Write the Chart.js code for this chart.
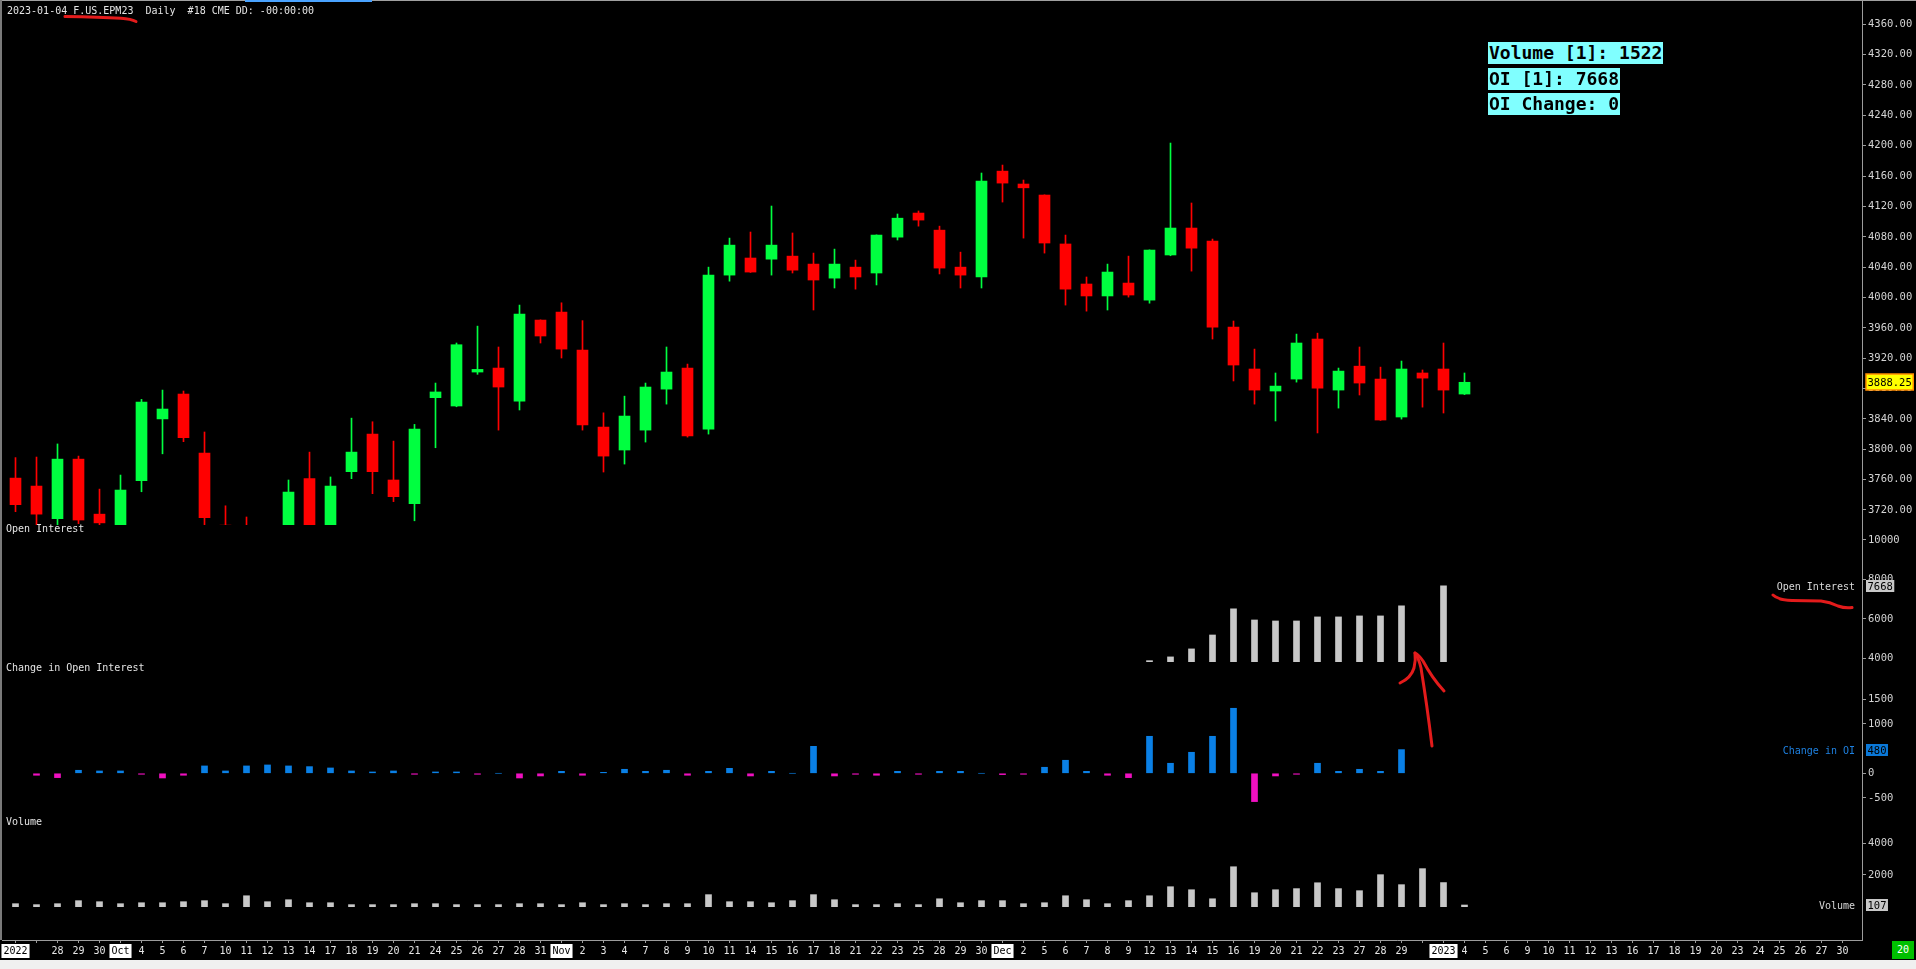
<!DOCTYPE html>
<html lang="en">
<head>
    <meta charset="UTF-8">
    <title>F.US.EPM23 Daily</title>
    <script src="https://cdn.jsdelivr.net/npm/chart.js"></script>
    <style>
        body {
            margin: 0;
            width: 1916px;
            height: 969px;
            overflow: hidden;
            position: relative;
            background-color: #000;
            font-family: "DejaVu Sans Mono", monospace;
        }

        canvas {
            position: absolute;
            left: 0;
        }

        .txt {
            position: absolute;
            z-index: 2;
            color: #e4e4e4;
            font-size: 10px;
            line-height: 12px;
            white-space: pre;
        }

        .info {
            position: absolute;
            left: 1488px;
            z-index: 2;
            height: 22px;
            padding: 0 1px;
            background-color: #80ffff;
            color: #000;
            font-size: 18px;
            font-weight: bold;
            line-height: 22px;
            white-space: pre;
        }

        .bar {
            position: absolute;
            z-index: 2;
        }
    </style>
</head>
<body>
    <div class="bar" style="left:0;top:0;width:1916px;height:1px;background:#a0a0a0"></div>
    <div class="bar" style="left:245px;top:0;width:127px;height:2px;background:#4aa3ff"></div>
    <div class="bar" style="left:0;top:0;width:2px;height:940px;background:#7a7a7a"></div>
    <div class="bar" style="left:0;top:960px;width:1916px;height:9px;background:#f0f0f0"></div>
    <div class="bar" style="left:1892px;top:941px;width:22px;height:18px;background:#00c000;color:#fff;font-size:10px;line-height:18px;text-align:center">20</div>

    <div class="txt" style="left:7px;top:5px">2023-01-04 F.US.EPM23  Daily  #18 CME DD: -00:00:00</div>
    <div class="txt" style="left:6px;top:523px">Open Interest</div>
    <div class="txt" style="left:6px;top:662px">Change in Open Interest</div>
    <div class="txt" style="left:6px;top:816px">Volume</div>

    <div class="info" id="info1" style="top:42px"></div>
    <div class="info" id="info2" style="top:68px"></div>
    <div class="info" id="info3" style="top:93px"></div>

    <canvas id="priceChart" width="1916" height="525" style="top:0"></canvas>
    <canvas id="oiChart" width="1916" height="137" style="top:525px"></canvas>
    <canvas id="changeChart" width="1916" height="153" style="top:662px"></canvas>
    <canvas id="volumeChart" width="1916" height="145" style="top:815px"></canvas>

    <!-- red hand-drawn marks from the screenshot -->
    <svg width="1916" height="969" style="position:absolute;left:0;top:0;z-index:3" fill="none"
         stroke="#e31b1b" stroke-width="3" stroke-linecap="round" stroke-linejoin="round">
        <path d="M65 16.5 Q100 17 121 18.3 Q131 19 136 21.5"/>
        <path d="M1773 595 Q1778 600 1792 600.5 L1821 601 Q1830 602 1838 606 Q1845 608.5 1852 607.5"/>
        <path d="M1432 746 Q1427 705 1421 668 Q1419 659 1415 653"/>
        <path d="M1400 683 Q1411 678 1414 668 Q1416 660 1415 653 Q1419 655 1423 661 Q1432 678 1444 691"/>
    </svg>

    <script>
        // trading days shown on the time axis (Sep 26 2022 .. Jan 30 2023)
        const slotLabels = [
            '2022', '', '28', '29', '30', 'Oct', '4', '5', '6', '7',
            '10', '11', '12', '13', '14', '17', '18', '19', '20', '21',
            '24', '25', '26', '27', '28', '31', 'Nov', '2', '3', '4',
            '7', '8', '9', '10', '11', '14', '15', '16', '17', '18',
            '21', '22', '23', '25', '28', '29', '30', 'Dec', '2', '5',
            '6', '7', '8', '9', '12', '13', '14', '15', '16', '19',
            '20', '21', '22', '23', '27', '28', '29', '', '2023', '4',
            '5', '6', '9', '10', '11', '12', '13', '16', '17', '18',
            '19', '20', '23', '24', '25', '26', '27', '30'
        ];

        // daily OHLC, one per trading day up to 2023-01-04
        const opens = [
            3762, 3751.5, 3708.5, 3787, 3714.5, 3698, 3758.5, 3840, 3872.75, 3795,
            3700, 3670, 3655, 3640, 3761.25, 3700, 3770.5, 3820, 3759.5, 3728.25,
            3868, 3857, 3901.75, 3907, 3863.5, 3970.25, 3980.75, 3930.75, 3829.25, 3799,
            3825.25, 3879.25, 3907, 3826.5, 4029.5, 4052, 4050.5, 4054.5, 4044, 4025.5,
            4040, 4032.25, 4079.5, 4111.25, 4088.75, 4040, 4027, 4166.5, 4149.5, 4135,
            4070.5, 4017.75, 4002, 4019, 3996.5, 4056, 4091.5, 4074.25, 3961, 3905.75,
            3876.75, 3892.5, 3945.25, 3878, 3909.5, 3892.5, 3842.5, 3900.5, 3905.75, 3872.75
        ];
        const highs = [
            3789, 3789.75, 3807, 3791, 3747.5, 3766, 3865.75, 3878, 3876.75, 3822.75,
            3725.5, 3710.75, 3690, 3759.5, 3796.25, 3763.5, 3841, 3836.25, 3810.75, 3832.75,
            3887.25, 3940, 3962.25, 3934.75, 3990, 3970.5, 3993, 3969.5, 3848, 3870,
            3887.25, 3934.75, 3912.25, 4040, 4078.25, 4086.25, 4120.5, 4085, 4058.5, 4063.75,
            4049.25, 4082.5, 4110, 4114, 4094, 4059.75, 4164, 4174.5, 4154.75, 4135.25,
            4082.25, 4027, 4044, 4054.5, 4062.75, 4203.5, 4124.5, 4077, 3969, 3932,
            3900.5, 3951.75, 3953, 3907, 3934.75, 3908.25, 3916.25, 3904.5, 3940, 3900.5
        ];
        const lows = [
            3717.75, 3700, 3700, 3702, 3690, 3690, 3744, 3794, 3810, 3695,
            3660, 3640, 3640, 3600, 3665, 3695, 3761.25, 3741.5, 3731, 3705.75,
            3802, 3856, 3898.75, 3825.25, 3851.75, 3940, 3920.25, 3825.25, 3770, 3780.5,
            3809.5, 3859.5, 3816, 3820, 4021.5, 4033, 4029.5, 4032.25, 3983.5, 4012.5,
            4011, 4016.5, 4075.75, 4094, 4031, 4012.5, 4012.5, 4125.75, 4078.25, 4058.5,
            3990, 3982, 3983.5, 4000.5, 3992.5, 4055, 4034.75, 3945.25, 3890, 3859.5,
            3837.25, 3888.5, 3821.5, 3854.25, 3871.5, 3838, 3839.75, 3855.5, 3847.75, 3872
        ];
        const closes = [
            3727, 3714.5, 3787, 3706.75, 3703, 3746.25, 3862.25, 3853, 3815.25, 3709.75,
            3675, 3650, 3645, 3743.5, 3670, 3751.5, 3796.25, 3770.5, 3737.5, 3826.5,
            3875.5, 3937.75, 3905.25, 3882, 3978, 3949.25, 3932, 3832, 3791, 3843.75,
            3882, 3901.75, 3817.5, 4029.5, 4069, 4033.5, 4069, 4036, 4023, 4044,
            4027, 4082.25, 4104.5, 4102, 4038.75, 4029.5, 4153.5, 4150.75, 4144.5, 4071.75,
            4011, 4002, 4033.5, 4003.25, 4062.5, 4091.5, 4065, 3961, 3911, 3878,
            3883.25, 3940, 3880.5, 3903, 3887.25, 3838.5, 3905.75, 3893.75, 3878, 3888.25
        ];

        // open interest, only the days that reach into the panel
        const openInterest = [
            null, null, null, null, null, null, null, null, null, null,
            null, null, null, null, null, null, null, null, null, null,
            null, null, null, null, null, null, null, null, null, null,
            null, null, null, null, null, null, null, null, null, null,
            null, null, null, null, null, null, null, null, null, null,
            null, null, null, null, 3880, 4070, 4475, 5180, 6500, 5940,
            5890, 5890, 6095, 6095, 6145, 6145, 6650, null, 7668, null
        ];
        const oiChange = [
            null, -40, -88, 61, 47, 47, -20, -95, -40, 149,
            47, 149, 169, 149, 135, 108, 47, 27, 47, -20,
            27, 27, -20, 0, -95, -54, 40, -40, 20, 81,
            40, 61, -40, 40, 101, -54, 40, 0, 547, -54,
            -20, -40, 40, -20, 40, 40, 0, -27, -20, 122,
            264, 40, -40, -88, 750, 203, 426, 750, 1318, -574,
            -54, -20, 203, 40, 81, 40, 480, null, null, null
        ];
        const volumes = [
            190, 130, 190, 380, 315, 190, 250, 250, 315, 380,
            190, 690, 315, 440, 250, 250, 130, 130, 130, 190,
            190, 130, 130, 130, 190, 190, 130, 250, 130, 190,
            130, 190, 190, 760, 315, 315, 250, 380, 760, 440,
            130, 130, 190, 130, 500, 250, 380, 380, 190, 250,
            690, 440, 190, 380, 690, 1260, 1070, 500, 2520, 880,
            1070, 1140, 1510, 1140, 1010, 2020, 1390, 2400, 1522, 107
        ];

        const priceTicks = [4360, 4320, 4280, 4240, 4200, 4160, 4120, 4080, 4040, 4000,
                            3960, 3920, 3880, 3840, 3800, 3760, 3720];
        const oiTicks = [10000, 8000, 6000, 4000];
        const changeTicks = [1500, 1000, 0, -500];
        const volumeTicks = [4000, 2000];

        const MONO = '"DejaVu Sans Mono", monospace';
        const AXIS = '#9c9c9c';
        const GREEN = '#00ff40';
        const RED = '#ff0000';
        const X_MIN = -0.642857;
        const X_MAX = 87.928571;

        function lastValue(arr) {
            for (let i = arr.length - 1; i >= 0; i--) {
                if (arr[i] !== null) return arr[i];
            }
        }

        document.getElementById('info1').textContent = 'Volume [1]: ' + volumes[volumes.length - 2];
        document.getElementById('info2').textContent = 'OI [1]: ' + lastValue(openInterest);
        document.getElementById('info3').textContent = 'OI Change: 0';

        function isMarker(i) {
            const s = slotLabels[i] || '';
            return /[A-Za-z]/.test(s) || s.length === 4;
        }

        // value box on the right axis plus the series name left of it
        const sideTag = {
            id: 'sideTag',
            afterDraw(chart, args, opts) {
                if (!opts.text) return;
                const scale = chart.scales.y;
                const ctx = chart.ctx;
                const y = Math.round(scale.getPixelForValue(opts.value));
                const h = opts.height;
                ctx.save();
                ctx.font = '10.5px ' + MONO;
                ctx.textBaseline = 'middle';
                const w = ctx.measureText(opts.text).width + 3;
                const x = scale.left + 4;
                ctx.fillStyle = opts.bg;
                ctx.fillRect(x, y - h / 2, w, h);
                if (opts.border) {
                    ctx.strokeStyle = opts.border;
                    ctx.lineWidth = 1.5;
                    ctx.strokeRect(x, y - h / 2, w, h);
                }
                ctx.fillStyle = opts.fg;
                ctx.fillText(opts.text, x + 1.5, y + 1);
                if (opts.label) {
                    ctx.font = '10px ' + MONO;
                    ctx.textAlign = 'right';
                    ctx.fillStyle = opts.labelColor;
                    ctx.fillText(opts.label, scale.left - 7, y + 1);
                }
                ctx.restore();
            }
        };

        function noPad(axis) {
            axis.paddingTop = 0;
            axis.paddingBottom = 0;
            axis.paddingLeft = 0;
            axis.paddingRight = 0;
        }

        function xScale(show) {
            return {
                type: 'linear',
                display: show,
                min: X_MIN,
                max: X_MAX,
                offset: false,
                afterBuildTicks: axis => { axis.ticks = slotLabels.map((_, i) => ({ value: i })); },
                afterFit: axis => {
                    noPad(axis);
                    if (show) axis.height = 20;
                },
                border: { color: AXIS },
                grid: { drawOnChartArea: false, offset: false, color: AXIS, tickLength: 3 },
                ticks: {
                    autoSkip: false,
                    maxRotation: 0,
                    minRotation: 0,
                    padding: 2,
                    font: { family: MONO, size: 10 },
                    callback: v => slotLabels[v],
                    color: c => isMarker(c.tick.value) ? '#000' : '#e6e6e6',
                    showLabelBackdrop: c => isMarker(c.tick.value),
                    backdropColor: '#ffffff',
                    backdropPadding: { x: 2, y: 1 }
                }
            };
        }

        function yScale(min, max, ticks, fmt) {
            return {
                position: 'right',
                min: min,
                max: max,
                afterBuildTicks: axis => { axis.ticks = ticks.map(v => ({ value: v })); },
                afterFit: axis => {
                    noPad(axis);
                    axis.width = 54;
                },
                border: { color: AXIS },
                grid: { drawOnChartArea: false, color: AXIS, tickLength: 4 },
                ticks: { color: '#d4d4d4', padding: 2, font: { family: MONO, size: 10.5 }, callback: fmt }
            };
        }

        function makePanel(id, datasets, y, tag, showX) {
            return new Chart(document.getElementById(id), {
                type: 'bar',
                data: { datasets: datasets },
                options: {
                    responsive: false,
                    animation: false,
                    events: [],
                    layout: { padding: { left: 2, right: 0, top: 0, bottom: 0 } },
                    plugins: {
                        legend: { display: false },
                        tooltip: { enabled: false },
                        sideTag: tag
                    },
                    scales: { x: xScale(showX), y: y }
                },
                plugins: [sideTag]
            });
        }

        const candleColors = opens.map((o, i) => closes[i] >= o ? GREEN : RED);

        makePanel('priceChart', [
            {
                data: opens.map((o, i) => ({ x: i, y: [lows[i], highs[i]] })),
                backgroundColor: candleColors,
                barThickness: 1,
                grouped: false,
                clip: 0
            },
            {
                data: opens.map((o, i) => ({ x: i, y: [o, closes[i]] })),
                backgroundColor: candleColors,
                barThickness: 11,
                minBarLength: 2,
                grouped: false,
                clip: 0
            }
        ], yScale(3700.2, 4392.0, priceTicks, v => v.toFixed(2)), {
            value: lastValue(closes), text: lastValue(closes).toFixed(2),
            bg: '#ffff00', fg: '#000', border: '#ff8c00', height: 16
        }, false);

        makePanel('oiChart', [
            {
                data: openInterest.map((v, i) => ({ x: i, y: v })),
                backgroundColor: '#c8c8c8',
                barThickness: 6,
                clip: 0
            }
        ], yScale(3812, 10749, oiTicks, v => String(v)), {
            value: lastValue(openInterest), text: String(lastValue(openInterest)),
            bg: '#c8c8c8', fg: '#000', height: 12, label: 'Open Interest', labelColor: '#d8d8d8'
        }, false);

        makePanel('changeChart', [
            {
                data: oiChange.map((v, i) => ({ x: i, y: v })),
                backgroundColor: oiChange.map(v => v !== null && v < 0 ? '#f010c0' : '#0a80e6'),
                barThickness: 6,
                clip: 0
            }
        ], yScale(-845.6, 2256, changeTicks, v => String(v)), {
            value: lastValue(oiChange), text: String(lastValue(oiChange)),
            bg: '#0a78d8', fg: '#000', height: 12, label: 'Change in OI', labelColor: '#1e80e0'
        }, false);

        makePanel('volumeChart', [
            {
                data: volumes.map((v, i) => ({ x: i, y: v })),
                backgroundColor: '#c8c8c8',
                barThickness: 6,
                clip: 0
            }
        ], yScale(-2101, 5785, volumeTicks, v => String(v)), {
            value: lastValue(volumes), text: String(lastValue(volumes)),
            bg: '#c8c8c8', fg: '#000', height: 12, label: 'Volume', labelColor: '#d8d8d8'
        }, true);
    </script>
</body>
</html>
